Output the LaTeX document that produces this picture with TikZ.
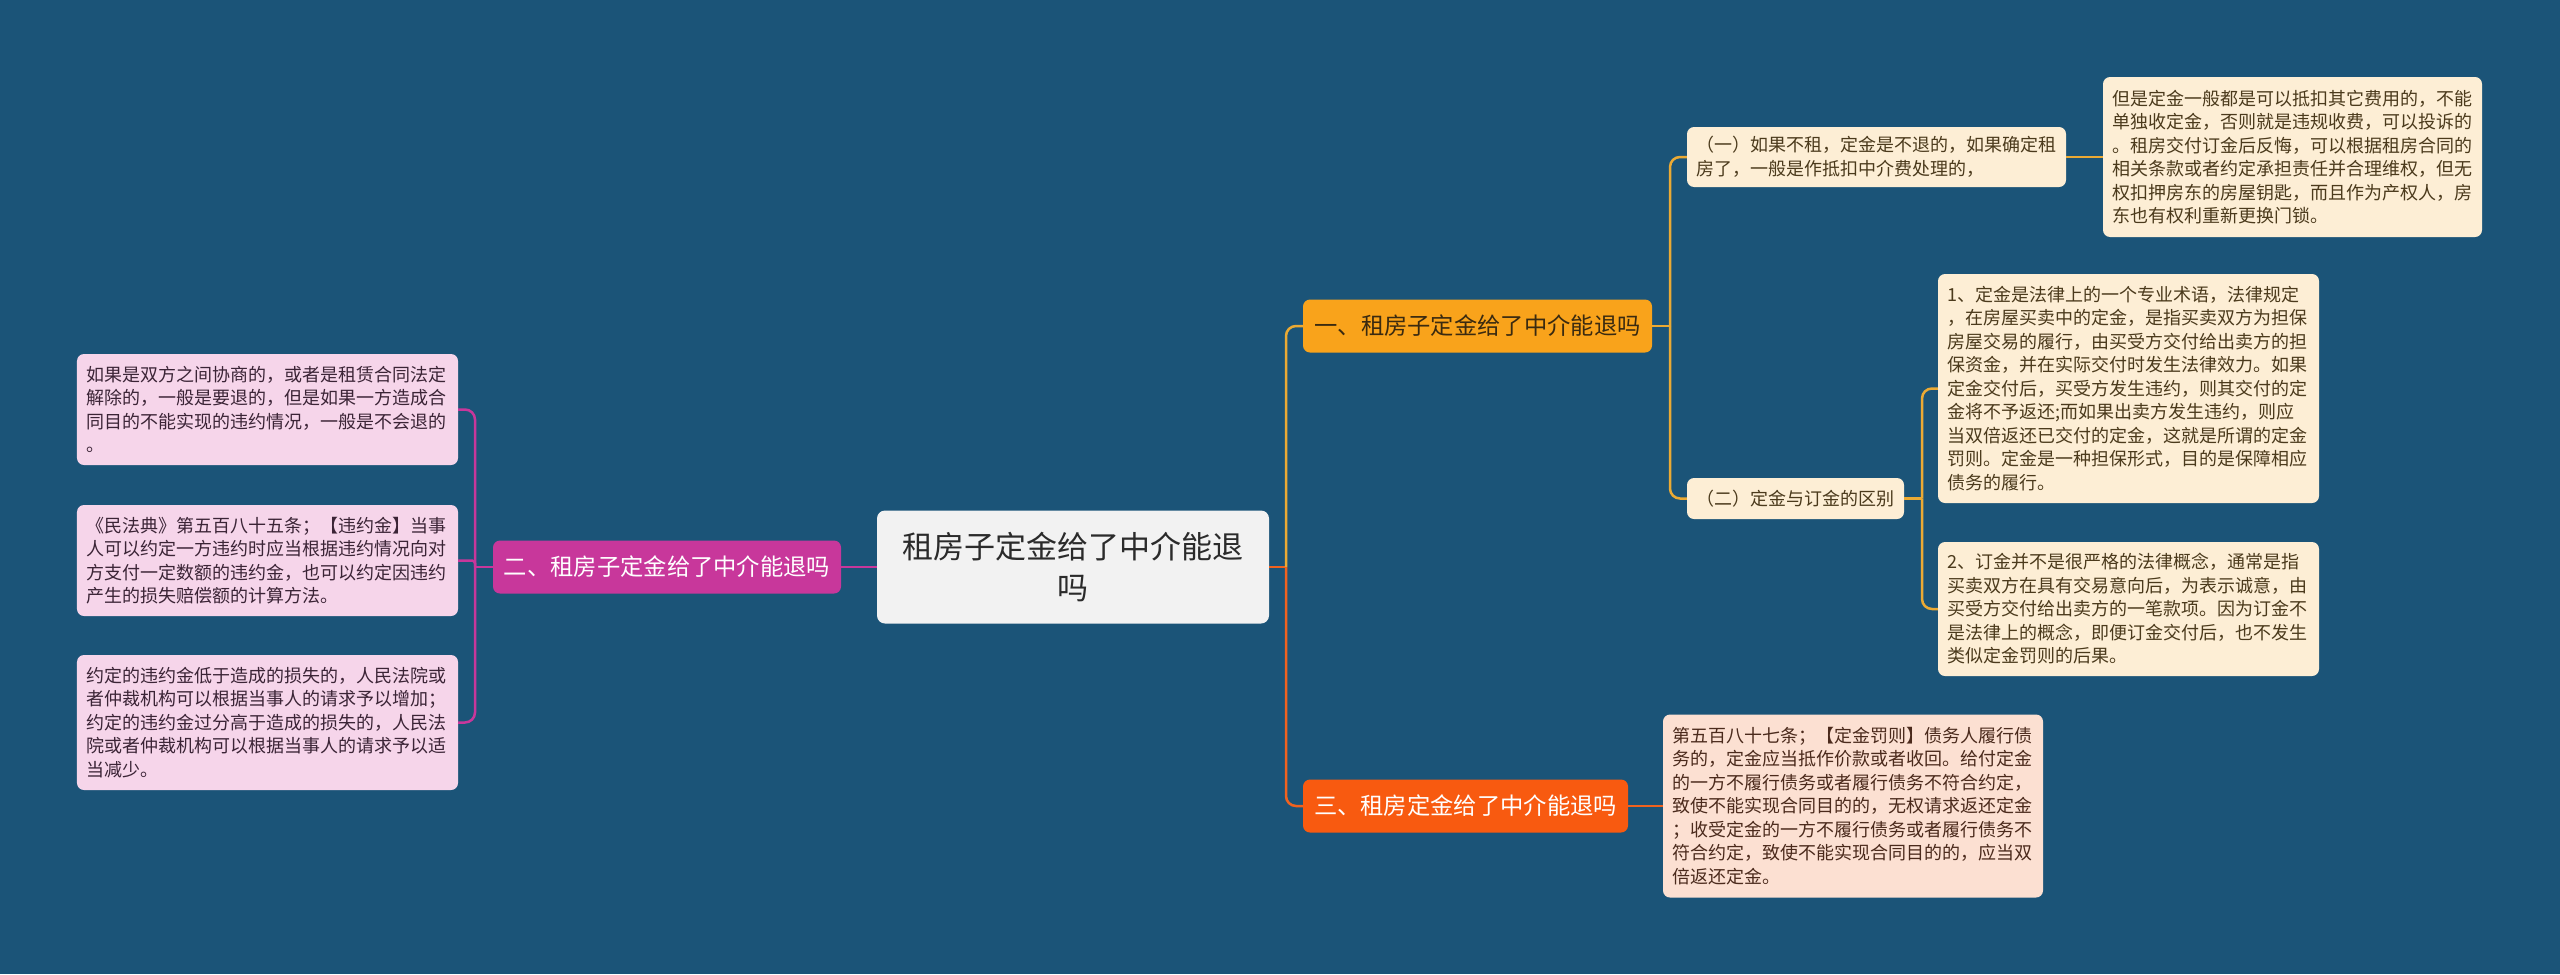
\documentclass[tikz,border=0pt]{standalone}
\usepackage{fontspec}
\setmainfont{Noto Sans CJK SC}
\definecolor{bg}{HTML}{1B5478}
\definecolor{rootF}{HTML}{F2F2F2}
\definecolor{rootT}{HTML}{2B2B2B}
\definecolor{oneF}{HTML}{F9A31B}
\definecolor{oneT}{HTML}{3A2A10}
\definecolor{twoF}{HTML}{C8379B}
\definecolor{threeF}{HTML}{F85A10}
\definecolor{goldL}{HTML}{EBAA34}
\definecolor{orangeL}{HTML}{F0621F}
\definecolor{magL}{HTML}{C8379B}
\definecolor{pinkF}{HTML}{F6D5EA}
\definecolor{pinkT}{HTML}{3B2436}
\definecolor{creamF}{HTML}{FDEED5}
\definecolor{creamT}{HTML}{4B3A1C}
\definecolor{peachF}{HTML}{FCE0D2}
\definecolor{peachT}{HTML}{4B2A1C}
\tikzset{
  card/.style={rounded corners=7bp, inner ysep=0bp, inner xsep=9.5bp, align=left,
    text width=362bp, font=\fontsize{18bp}{23.5bp}\selectfont},
  pinkleaf/.style={card, fill=pinkF, text=pinkT},
  creamleaf/.style={card, fill=creamF, text=creamT},
  peachleaf/.style={card, fill=peachF, text=peachT},
  branch/.style={rounded corners=7bp, inner sep=0bp, minimum height=53bp,
    font=\fontsize{23.3bp}{28bp}\selectfont},
  rootbox/.style={rounded corners=8bp, inner sep=0bp, fill=rootF, text=rootT, align=center,
    minimum width=392bp, minimum height=113bp, font=\fontsize{31bp}{41bp}\selectfont},
  link/.style={line width=2.5bp},
  elbow/.style={link, rounded corners=10bp},
}
\begin{document}
\begin{tikzpicture}[x=1bp,y=-1bp]
\fill[bg] (0,0) rectangle (2560,974);
\useasboundingbox (0,0) rectangle (2560,974);

% root
\node[rootbox] (root) at (1073,567) {租房子定金给了中介能退\\吗};

% main branches
\node[branch, fill=twoF, text=white, minimum width=348bp] (b2) at (667,567) {二、租房子定金给了中介能退吗};
\node[branch, fill=oneF, text=oneT, minimum width=349bp] (b1) at (1477.5,326) {一、租房子定金给了中介能退吗};
\node[branch, fill=threeF, text=white, minimum width=325bp] (b3) at (1465.5,806) {三、租房定金给了中介能退吗};

% left leaves
\node[pinkleaf, minimum height=111bp] (l1) at (267.5,409.5) {如果是双方之间协商的，或者是租赁合同法定\\解除的，一般是要退的，但是如果一方造成合\\同目的不能实现的违约情况，一般是不会退的\\。};
\node[pinkleaf, minimum height=111bp] (l2) at (267.5,560.5) {《民法典》第五百八十五条；【违约金】当事\\人可以约定一方违约时应当根据违约情况向对\\方支付一定数额的违约金，也可以约定因违约\\产生的损失赔偿额的计算方法。};
\node[pinkleaf, minimum height=135bp] (l3) at (267.5,722.5) {约定的违约金低于造成的损失的，人民法院或\\者仲裁机构可以根据当事人的请求予以增加；\\约定的违约金过分高于造成的损失的，人民法\\院或者仲裁机构可以根据当事人的请求予以适\\当减少。};

% right subtree of branch one
\node[creamleaf, text width=360bp, minimum height=60bp] (s1) at (1876.5,157) {（一）如果不租，定金是不退的，如果确定租\\房了，一般是作抵扣中介费处理的，};
\node[creamleaf, text width=360bp, minimum height=160bp] (d1) at (2292.5,157) {但是定金一般都是可以抵扣其它费用的，不能\\单独收定金，否则就是违规收费，可以投诉的\\。租房交付订金后反悔，可以根据租房合同的\\相关条款或者约定承担责任并合理维权，但无\\权扣押房东的房屋钥匙，而且作为产权人，房\\东也有权利重新更换门锁。};
\node[creamleaf, text width=198bp, minimum height=41bp] (s2) at (1795.5,498.5) {（二）定金与订金的区别};
\node[creamleaf, minimum height=229bp] (c1) at (2128.5,388.5) {1、定金是法律上的一个专业术语，法律规定\\，在房屋买卖中的定金，是指买卖双方为担保\\房屋交易的履行，由买受方交付给出卖方的担\\保资金，并在实际交付时发生法律效力。如果\\定金交付后，买受方发生违约，则其交付的定\\金将不予返还;而如果出卖方发生违约，则应\\当双倍返还已交付的定金，这就是所谓的定金\\罚则。定金是一种担保形式，目的是保障相应\\债务的履行。};
\node[creamleaf, minimum height=134bp] (c2) at (2128.5,609) {2、订金并不是很严格的法律概念，通常是指\\买卖双方在具有交易意向后，为表示诚意，由\\买受方交付给出卖方的一笔款项。因为订金不\\是法律上的概念，即便订金交付后，也不发生\\类似定金罚则的后果。};

% branch three detail
\node[peachleaf, text width=361bp, minimum height=183bp] (d3) at (1853,806) {第五百八十七条；【定金罚则】债务人履行债\\务的，定金应当抵作价款或者收回。给付定金\\的一方不履行债务或者履行债务不符合约定，\\致使不能实现合同目的的，无权请求返还定金\\；收受定金的一方不履行债务或者履行债务不\\符合约定，致使不能实现合同目的的，应当双\\倍返还定金。};

% junctions
\coordinate (jL) at (475,567);
\coordinate (jR) at (1286,567);
\coordinate (j1) at (1670,326);
\coordinate (j2) at (1922,498.5);

% connectors left
\draw[link, magL] (root.west) -- (b2.east);
\draw[link, magL] (b2.west) -- (jL);
\draw[elbow, magL] (jL) |- (l1.east);
\draw[link, magL, rounded corners=3bp] (jL) |- (l2.east);
\draw[elbow, magL] (jL) |- (l3.east);

% connectors right
\draw[link, orangeL] (root.east) -- (jR);
\draw[elbow, goldL] (jR) |- (b1.west);
\draw[elbow, orangeL] (jR) |- (b3.west);
\draw[link, goldL] (b1.east) -- (j1);
\draw[elbow, goldL] (j1) |- (s1.west);
\draw[elbow, goldL] (j1) |- (s2.west);
\draw[link, goldL] (s1.east) -- (d1.west);
\draw[link, goldL] (s2.east) -- (j2);
\draw[elbow, goldL] (j2) |- (c1.west);
\draw[elbow, goldL] (j2) |- (c2.west);
\draw[link, orangeL] (b3.east) -- (d3.west);
\end{tikzpicture}
\end{document}
